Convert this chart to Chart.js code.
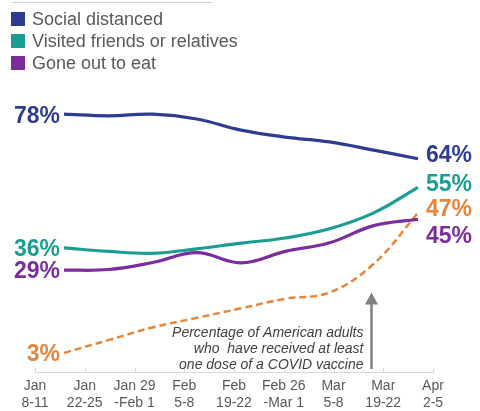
<!DOCTYPE html>
<html>
<head>
<meta charset="utf-8">
<script src="https://cdn.jsdelivr.net/npm/chart.js@4/dist/chart.umd.min.js"></script>
<style>
  body { margin: 0; background: #fff; font-family: "Liberation Sans", Arial, sans-serif; }
  #wrap { position: relative; width: 480px; height: 411px; }
  #legend { position: absolute; left: 11px; top: 0; }
  #legend .rule { width: 200px; height: 1px; background: #d0d0d0; margin: 2px 0 5px 1px; }
  #legend .item { display: flex; align-items: center; height: 22px; font-size: 18px; color: #595959; }
  #legend .box { width: 14px; height: 14px; margin-right: 7px; }
</style>
</head>
<body>
<div id="wrap">
  <canvas id="chart" width="480" height="411"></canvas>
  <div id="legend"></div>
</div>
<script>
const waves = [["Jan", "8-11"], ["Jan", "22-25"], ["Jan 29", "-Feb 1"], ["Feb", "5-8"], ["Feb", "19-22"],
               ["Feb 26", "-Mar 1"], ["Mar", "5-8"], ["Mar", "19-22"], ["Apr", "2-5"]];
const socialDistanced = [78, 77.5, 78, 76.5, 73, 70.8, 69.3, 66.7, 64];
const visitedFriends = [36, 34.9, 34.3, 35.7, 37.5, 39.1, 42, 47, 55];
const goneOutToEat = [29, 29.2, 31.4, 34.5, 31.3, 34.9, 37.6, 43, 45];
const vaccinated = [3, 7, 11, 14, 17, 20, 22, 31, 47];

const seriesNames = ["Social distanced", "Visited friends or relatives", "Gone out to eat"];
const colors = ["#2e3d92", "#1a9e94", "#7a2d9b", "#e6843a"];
const noteLines = ["Percentage of American adults", "who  have received at least", "one dose of a COVID vaccine"];

const font = '"Liberation Sans", Arial, sans-serif';

// legend
const legend = document.getElementById("legend");
legend.innerHTML = '<div class="rule"></div>' + seriesNames.map((n, i) =>
  '<div class="item"><span class="box" style="background:' + colors[i] + '"></span>' + n + '</div>').join("");

const toPoints = arr => arr.map((v, i) => ({x: i, y: v}));

function line(data, color, dashed) {
  return {
    data: toPoints(data),
    xAxisID: "xd",
    borderColor: color,
    borderWidth: dashed ? 2.5 : 3.2,
    borderDash: dashed ? [7, 4] : [],
    pointRadius: 0,
    tension: 0.4,
    fill: false
  };
}

// value labels at both ends of every line
const endLabels = {
  id: "endLabels",
  afterDatasetsDraw(chart) {
    const ctx = chart.ctx;
    ctx.save();
    ctx.font = "bold 23px " + font;
    ctx.textBaseline = "middle";
    chart.data.datasets.forEach((ds, i) => {
      const pts = chart.getDatasetMeta(i).data;
      const first = pts[0], last = pts[pts.length - 1];
      ctx.fillStyle = ds.borderColor;
      ctx.textAlign = "right";
      ctx.fillText(Math.round(ds.data[0].y) + "%", first.x - 4, first.y + 2);
      ctx.textAlign = "left";
      const shift = i === 2 ? 17 : -3;  // keep 45% clear of 47%
      ctx.fillText(Math.round(ds.data[ds.data.length - 1].y) + "%", last.x + 8, last.y + shift);
    });
    ctx.restore();
  }
};

// small upward tick marks on the x axis plus the vaccine note and arrow
const extras = {
  id: "extras",
  afterDraw(chart) {
    const ctx = chart.ctx;
    const xs = chart.scales.x, xd = chart.scales.xd, ys = chart.scales.y;
    const bottom = chart.chartArea.bottom;
    ctx.save();
    ctx.strokeStyle = "#d9d9d9";
    ctx.lineWidth = 1;
    xs.ticks.forEach((t, i) => {
      const px = Math.round(xs.getPixelForTick(i)) + 0.5;
      ctx.beginPath();
      ctx.moveTo(px, bottom);
      ctx.lineTo(px, bottom - 4);
      ctx.stroke();
    });

    const ax = xd.getPixelForValue(6.95);
    const tip = ys.getPixelForValue(22);
    ctx.strokeStyle = "#808080";
    ctx.fillStyle = "#808080";
    ctx.lineWidth = 2.5;
    ctx.beginPath();
    ctx.moveTo(ax, bottom - 3);
    ctx.lineTo(ax, tip + 8);
    ctx.stroke();
    ctx.beginPath();
    ctx.moveTo(ax, tip);
    ctx.lineTo(ax - 6.5, tip + 12);
    ctx.lineTo(ax + 6.5, tip + 12);
    ctx.closePath();
    ctx.fill();

    ctx.fillStyle = "#404040";
    ctx.font = "italic 14px " + font;
    ctx.textAlign = "right";
    ctx.textBaseline = "middle";
    noteLines.forEach((s, i) => ctx.fillText(s, ax - 8, bottom - 39 + i * 16));
    ctx.restore();
  }
};

new Chart(document.getElementById("chart"), {
  type: "line",
  data: {
    labels: waves,
    datasets: [
      line(socialDistanced, colors[0]),
      line(visitedFriends, colors[1]),
      line(goneOutToEat, colors[2]),
      line(vaccinated, colors[3], true)
    ]
  },
  options: {
    responsive: false,
    animation: false,
    layout: { padding: { left: 35, right: 47, top: 76, bottom: 1 } },
    plugins: { legend: { display: false }, tooltip: { enabled: false } },
    scales: {
      x: {
        type: "category",
        offset: false,
        grid: { display: false, drawTicks: false },
        border: { display: true, color: "#d9d9d9" },
        ticks: { color: "#595959", font: { family: font, size: 14 }, padding: 6, maxRotation: 0, autoSkip: false },
        afterFit: scale => { scale.height = 38; }
      },
      xd: { type: "linear", display: false, min: -0.655, max: 8.34 },
      y: { display: false, min: -3, max: 90 }
    }
  },
  plugins: [endLabels, extras]
});
</script>
</body>
</html>
